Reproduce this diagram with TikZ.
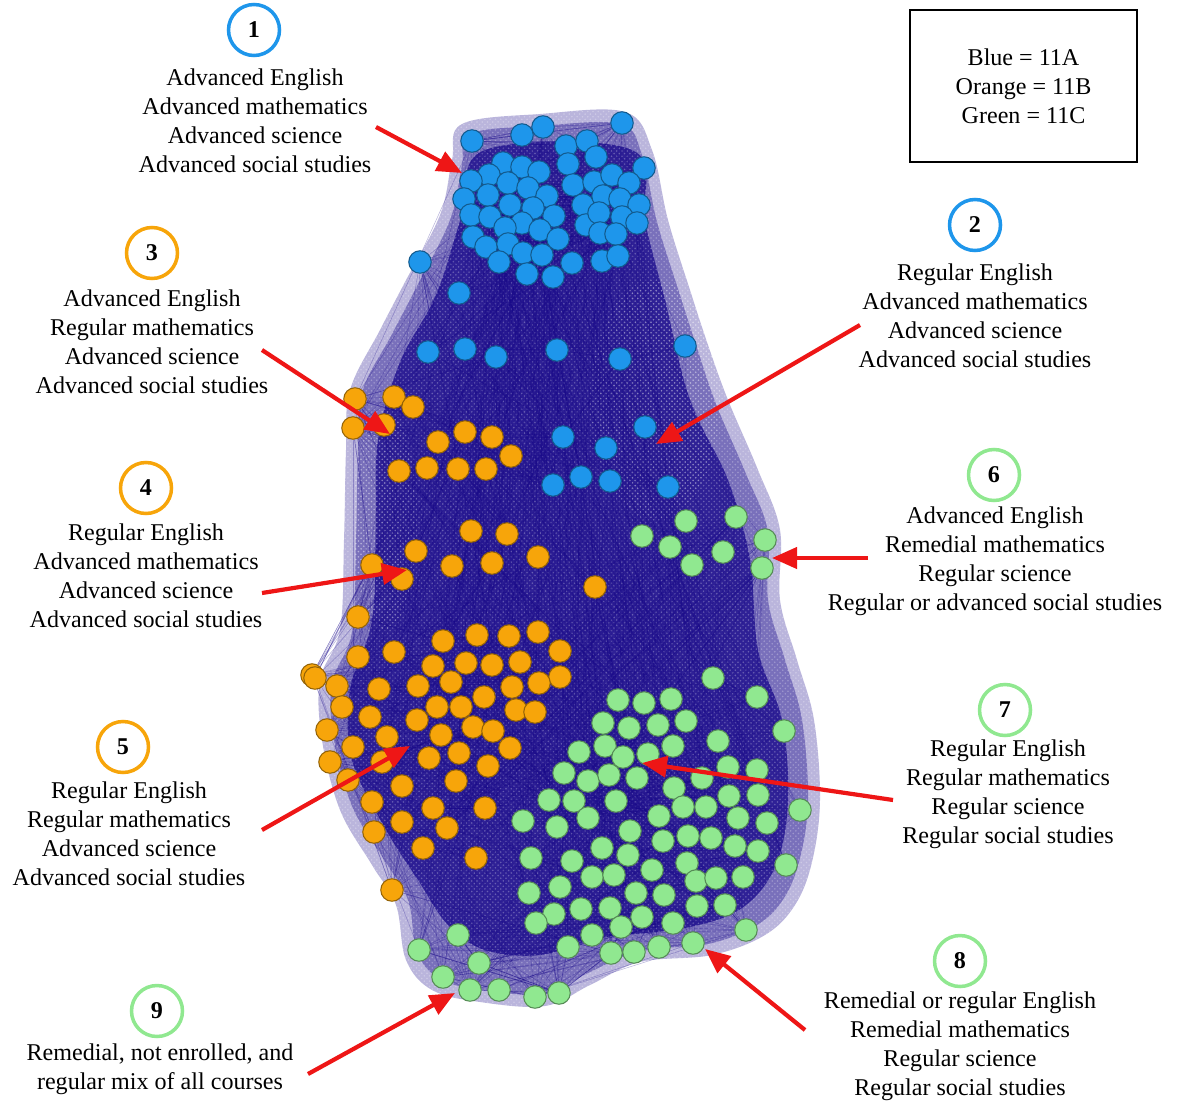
\documentclass[tikz,border=0pt]{standalone}
\usepackage{fontspec}
\setmainfont{Liberation Serif}
\usetikzlibrary{arrows.meta,patterns}
\definecolor{edgeblue}{RGB}{24,8,138}
\definecolor{cb}{RGB}{30,150,235}
\definecolor{co}{RGB}{247,165,10}
\definecolor{cg}{RGB}{144,232,144}
\definecolor{arrred}{RGB}{238,22,22}
\pgfdeclarelayer{bg}
\pgfsetlayers{bg,main}
\tikzset{
  vtx/.style={circle,fill=c#1,draw=c#1!60!black,line width=0.6pt,minimum size=0.45cm,inner sep=0pt},
  lab/.style={align=center,font=\fontsize{13.7}{16.5}\selectfont},
  numb/.style={circle,draw=#1,line width=2pt,minimum size=1.02cm,inner sep=0pt,font=\fontsize{13.7}{16.5}\selectfont\bfseries},
  redarrow/.style={draw=arrred,line width=2.4pt,-{Triangle[length=0.5cm,width=0.42cm]}},
  edge/.style={draw=edgeblue,line width=0.3pt,opacity=0.3},
  speckle/.style={pattern=crosshatch dots,pattern color=white}
}
\newcommand\blobout{(462,124) (540,114) (625,112) (652,150) (668,220) (690,290) (708,345) (728,400) (758,470)
  (780,530) (780,600) (797,660) (814,720) (820,800) (812,862) (795,905) (765,935) (712,955)
  (640,962) (590,985) (545,1006) (480,1002) (432,990) (406,960) (396,905) (372,865) (340,810)
  (322,740) (320,680) (340,630) (344,540) (346,450) (350,390) (380,330) (405,282) (440,215) (452,160)}
\begin{document}
\begin{tikzpicture}[x=0.02cm,y=-0.02cm]
\useasboundingbox (0,0) rectangle (1186,1105);

\foreach \x/\y/\c [count=\i] in {
  472/141/b,522/135/b,543/127/b,622/123/b,566/146/b,587/141/b,596/157/b,568/164/b,644/168/b,503/163/b,
  522/167/b,539/172/b,489/175/b,471/181/b,508/183/b,528/188/b,547/196/b,573/185/b,594/182/b,612/175/b,
  629/183/b,464/199/b,488/195/b,510/205/b,533/208/b,554/216/b,583/205/b,603/196/b,620/199/b,639/205/b,
  471/215/b,490/217/b,522/223/b,505/228/b,540/230/b,558/239/b,586/225/b,599/213/b,622/217/b,637/223/b,
  600/233/b,616/234/b,473/237/b,486/247/b,508/244/b,523/253/b,542/255/b,499/262/b,527/274/b,553/277/b,
  572/263/b,602/261/b,618/256/b,420/262/b,459/293/b,
  428/352/b,465/349/b,496/357/b,557/350/b,620/359/b,685/346/b,
  563/437/b,645/427/b,606/448/b,581/477/b,610/481/b,553/485/b,668/487/b,
  355/399/o,394/397/o,413/407/o,353/428/o,384/425/o,438/442/o,465/432/o,492/437/o,511/456/o,399/471/o,
  427/468/o,458/469/o,486/469/o,
  471/531/o,507/534/o,416/551/o,372/565/o,452/566/o,492/563/o,538/557/o,402/579/o,595/587/o,358/617/o,
  443/641/o,477/635/o,509/636/o,538/632/o,560/651/o,394/652/o,358/657/o,433/666/o,466/663/o,492/665/o,
  520/662/o,560/677/o,539/683/o,312/675/o,315/678/o,337/686/o,379/689/o,418/686/o,451/682/o,512/687/o,
  484/697/o,437/707/o,461/707/o,342/707/o,516/710/o,535/712/o,370/717/o,417/720/o,473/727/o,493/731/o,
  327/730/o,387/737/o,441/735/o,353/747/o,510/748/o,459/753/o,429/758/o,330/762/o,382/762/o,488/766/o,
  348/780/o,456/781/o,402/786/o,372/802/o,433/808/o,485/808/o,402/822/o,447/828/o,374/832/o,423/848/o,
  476/858/o,392/890/o,
  686/521/g,736/517/g,642/536/g,670/547/g,723/552/g,765/540/g,692/565/g,762/568/g,
  713/678/g,757/697/g,618/700/g,644/703/g,671/699/g,603/723/g,629/728/g,658/725/g,686/721/g,784/731/g,
  579/752/g,605/746/g,623/757/g,648/754/g,673/746/g,718/741/g,564/773/g,588/781/g,609/775/g,637/778/g,
  674/788/g,702/778/g,728/767/g,757/770/g,549/800/g,574/801/g,616/801/g,683/807/g,706/807/g,729/796/g,
  758/795/g,800/810/g,523/821/g,557/827/g,588/818/g,659/816/g,738/818/g,767/823/g,630/831/g,663/841/g,
  688/836/g,711/838/g,735/846/g,758/851/g,786/865/g,531/858/g,602/848/g,628/855/g,572/861/g,652/870/g,
  687/863/g,592/877/g,614/875/g,696/881/g,716/878/g,743/877/g,529/893/g,560/887/g,636/893/g,664/895/g,
  581/909/g,610/908/g,642/917/g,673/923/g,697/906/g,725/905/g,554/914/g,536/923/g,592/935/g,621/927/g,
  746/930/g,568/947/g,611/953/g,634/952/g,659/947/g,693/943/g,
  458/935/g,419/950/g,479/963/g,443/977/g,470/990/g,499/990/g,535/997/g,559/993/g}
  {\node[vtx=\c] (v\i) at (\x,\y) {}; \xdef\nv{\i}}

\begin{pgfonlayer}{bg}
\fill[edgeblue!30!white] plot[smooth cycle,tension=0.6] coordinates {\blobout};
\fill[edgeblue!58!white] plot[smooth cycle,tension=0.6] coordinates {
  (470,134) (540,126) (620,124) (642,155) (657,222) (679,292) (697,348) (716,404) (746,474)
  (768,532) (768,600) (785,660) (802,720) (808,800) (800,858) (784,898) (757,925) (708,944)
  (640,951) (588,973) (545,994) (482,990) (440,979) (417,952) (408,900) (383,858) (352,806)
  (334,740) (332,683) (352,632) (356,540) (358,450) (362,392) (391,336) (416,288) (450,220) (462,165)};
\fill[edgeblue!90!white] plot[smooth cycle,tension=0.6] coordinates {
  (485,150) (632,150) (645,222) (665,300) (690,400) (728,480) (750,560) (758,650) (782,720)
  (788,800) (776,865) (742,908) (685,928) (600,938) (540,955) (485,950) (448,925) (418,880)
  (385,828) (352,760) (350,690) (372,620) (376,520) (378,440) (400,362) (436,295) (462,215)};
\fill[speckle,opacity=0.28] plot[smooth cycle,tension=0.6] coordinates {\blobout};
\fill[speckle,opacity=0.25] (655,400) ellipse (65 and 120);
\fill[speckle,opacity=0.25] (385,520) ellipse (32 and 110);
\pgfmathsetseed{17}
\foreach \k in {1,...,900} {
  \pgfmathrandominteger{\a}{1}{\nv}
  \pgfmathrandominteger{\b}{1}{\nv}
  \draw[edge] (v\a) -- (v\b);
}
\foreach \k in {1,...,900} {
  \pgfmathrandominteger{\a}{1}{\nv}
  \pgfmathrandominteger{\d}{-14}{14}
  \pgfmathtruncatemacro{\b}{max(1,min(\nv,\a+\d))}
  \draw[edge] (v\a) -- (v\b);
}
\end{pgfonlayer}

\node[draw,line width=0.8pt,minimum width=4.54cm,minimum height=3.04cm,lab] (key) at (1023.5,86)
  {Blue = 11A\\Orange = 11B\\Green = 11C};

\node[numb=cb] (n1) at (254,30) {1};
\node[numb=cb] (n2) at (975,225) {2};
\node[numb=co] (n3) at (152,253) {3};
\node[numb=co] (n4) at (146,488) {4};
\node[numb=co] (n5) at (123,747) {5};
\node[numb=cg] (n6) at (994,475) {6};
\node[numb=cg] (n7) at (1005,710) {7};
\node[numb=cg] (n8) at (960,961) {8};
\node[numb=cg] (n9) at (157,1011) {9};

\node[lab] (l1) at (255,120.5) {Advanced English\\Advanced mathematics\\Advanced science\\Advanced social studies};
\node[lab] (l2) at (975,315.5) {Regular English\\Advanced mathematics\\Advanced science\\Advanced social studies};
\node[lab] (l3) at (152,341.5) {Advanced English\\Regular mathematics\\Advanced science\\Advanced social studies};
\node[lab] (l4) at (146,575.5) {Regular English\\Advanced mathematics\\Advanced science\\Advanced social studies};
\node[lab] (l5) at (129,833.5) {Regular English\\Regular mathematics\\Advanced science\\Advanced social studies};
\node[lab] (l6) at (995,561.5) {Advanced English\\Remedial mathematics\\Regular science\\Regular or advanced social studies};
\node[lab] (l7) at (1008,794.5) {Regular English\\Regular mathematics\\Regular science\\Regular social studies};
\node[lab] (l8) at (960,1046) {Remedial or regular English\\Remedial mathematics\\Regular science\\Regular social studies};
\node[lab] (l9) at (160,1069.5) {Remedial, not enrolled, and\\regular mix of all courses};

\coordinate (t1) at (376,127);  \coordinate (h1) at (462,173);
\coordinate (t2) at (860,325);  \coordinate (h2) at (656,444);
\coordinate (t3) at (262,350);  \coordinate (h3) at (390,434);
\coordinate (t4) at (262,593);  \coordinate (h4) at (407,570);
\coordinate (t5) at (262,830);  \coordinate (h5) at (410,746);
\coordinate (t6) at (868,558);  \coordinate (h6) at (772,558);
\coordinate (t7) at (893,800);  \coordinate (h7) at (642,763);
\coordinate (t8) at (805,1030); \coordinate (h8) at (705,949);
\coordinate (t9) at (308,1074); \coordinate (h9) at (455,993);
\foreach \k in {1,...,9} \draw[redarrow] (t\k) -- (h\k);
\end{tikzpicture}
\end{document}
